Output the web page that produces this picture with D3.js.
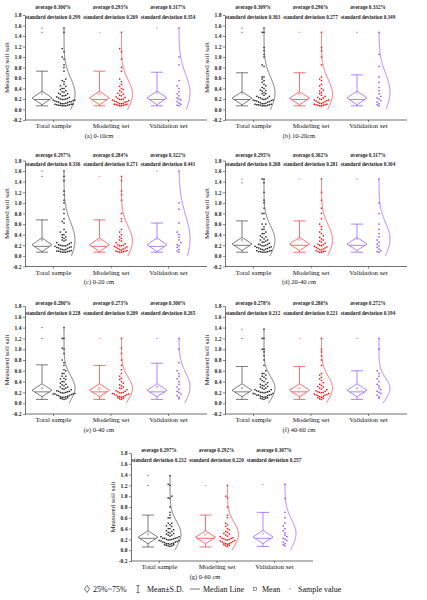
<!DOCTYPE html>
<html><head><meta charset="utf-8">
<script src="https://cdn.jsdelivr.net/npm/d3@7"></script>
<style>body{margin:0;background:#fff}svg{display:block}</style>
</head><body><svg id="c" width="427" height="600"></svg>
<script>
const groups = ["Total sample","Modeling set","Validation set"];
const yTicks = [-0.2,0.0,0.2,0.4,0.6,0.8,1.0,1.2,1.4,1.6,1.8];
const captions = ["(a)  0-10cm","(b)  10-20cm","(c)  0-20 cm","(d)  20-40 cm","(e)  0-40 cm","(f)  40-60 cm","(g)  0-60 cm"];
const averages = [[0.300,0.293,0.317],[0.309,0.296,0.332],[0.297,0.284,0.322],[0.295,0.302,0.317],[0.280,0.273,0.300],[0.278,0.280,0.272],[0.297,0.292,0.307]];
const stdDevs  = [[0.299,0.269,0.354],[0.303,0.277,0.349],[0.336,0.271,0.441],[0.268,0.281,0.304],[0.228,0.209,0.265],[0.212,0.221,0.194],[0.232,0.220,0.257]];
// box stats per panel: [whiskerLow, q25, median, q75, whiskerHigh] for each group
const boxStats = [
 [[0.07,0.09,0.19,0.35,0.73],[0.07,0.09,0.19,0.35,0.73],[0.07,0.09,0.19,0.35,0.71]],
 [[0.07,0.09,0.19,0.34,0.70],[0.07,0.09,0.19,0.34,0.70],[0.07,0.09,0.19,0.35,0.66]],
 [[0.07,0.08,0.18,0.34,0.68],[0.07,0.08,0.18,0.34,0.68],[0.07,0.08,0.18,0.34,0.62]],
 [[0.07,0.10,0.20,0.35,0.66],[0.07,0.10,0.20,0.35,0.66],[0.07,0.10,0.20,0.35,0.60]],
 [[0.07,0.12,0.21,0.36,0.71],[0.07,0.12,0.21,0.36,0.70],[0.07,0.12,0.21,0.36,0.74]],
 [[0.07,0.12,0.21,0.36,0.68],[0.07,0.12,0.21,0.36,0.68],[0.07,0.12,0.21,0.36,0.60]],
 [[0.06,0.12,0.22,0.36,0.65],[0.06,0.12,0.22,0.36,0.65],[0.07,0.12,0.22,0.37,0.70]]
];
const outliers = [
 [[1.47,1.55],[1.47],[1.55]],
 [[1.47,1.55],[1.47],[1.47]],
 [[1.50,1.60],[1.50],[1.60]],
 [[1.38,1.45],[1.45],[1.45]],
 [[1.20,1.40],[1.20],[1.20]],
 [[1.20,1.37],[1.20],[1.20]],
 [[1.20,1.38],[1.20],[1.22]]
];
// sample values
const modeling = [
 [1.47,1.16,1.10,0.96,0.80,0.73,0.58,0.53,0.48,0.44,0.40,0.38,0.36,0.33,0.31,0.29,0.27,0.26,0.24,0.23,0.21,0.20,0.19,0.18,0.17,0.16,0.15,0.14,0.13,0.12,0.11,0.10,0.10,0.09,0.09,0.08,0.08,0.07,0.07,0.19,0.15,0.11],
 [1.47,1.18,1.12,1.00,0.85,0.62,0.58,0.55,0.48,0.45,0.40,0.37,0.35,0.32,0.30,0.27,0.25,0.23,0.22,0.20,0.19,0.18,0.17,0.16,0.15,0.14,0.13,0.12,0.11,0.10,0.09,0.09,0.08,0.08,0.07,0.07,0.18,0.10],
 [1.50,1.42,1.22,1.15,1.05,0.80,0.70,0.65,0.50,0.45,0.40,0.36,0.33,0.30,0.28,0.25,0.23,0.21,0.20,0.19,0.18,0.17,0.16,0.15,0.14,0.13,0.12,0.11,0.10,0.09,0.09,0.08,0.08,0.07,0.07,0.19],
 [1.45,1.20,1.05,0.90,0.80,0.70,0.60,0.55,0.50,0.45,0.42,0.38,0.35,0.32,0.30,0.28,0.26,0.24,0.22,0.21,0.20,0.19,0.18,0.17,0.16,0.15,0.14,0.13,0.12,0.11,0.10,0.09,0.08,0.08,0.07,0.07],
 [1.20,1.02,0.92,0.80,0.70,0.62,0.55,0.50,0.46,0.44,0.40,0.37,0.34,0.32,0.30,0.28,0.27,0.25,0.23,0.22,0.21,0.20,0.19,0.18,0.17,0.16,0.15,0.14,0.13,0.12,0.11,0.10,0.09,0.08,0.07,0.19,0.17,0.12],
 [1.20,1.00,0.95,0.88,0.80,0.70,0.55,0.52,0.48,0.45,0.42,0.38,0.35,0.33,0.31,0.30,0.28,0.26,0.25,0.23,0.22,0.21,0.20,0.19,0.18,0.17,0.16,0.15,0.14,0.13,0.12,0.11,0.10,0.09,0.08,0.07,0.20,0.15],
 [1.20,1.00,0.97,0.80,0.65,0.60,0.50,0.47,0.44,0.40,0.38,0.35,0.33,0.31,0.30,0.28,0.26,0.25,0.23,0.22,0.21,0.20,0.19,0.18,0.17,0.16,0.15,0.14,0.13,0.12,0.11,0.10,0.09,0.08,0.07,0.22,0.19,0.12]
];
const validation = [
 [1.55,1.00,0.85,0.55,0.45,0.40,0.34,0.30,0.26,0.22,0.20,0.18,0.15,0.12,0.10,0.08,0.07],
 [1.47,1.05,0.82,0.62,0.52,0.42,0.36,0.30,0.25,0.22,0.20,0.17,0.14,0.11,0.09,0.07],
 [1.60,1.00,0.88,0.62,0.45,0.40,0.35,0.30,0.25,0.21,0.19,0.16,0.12,0.09,0.07],
 [1.45,1.00,0.80,0.60,0.50,0.42,0.36,0.30,0.26,0.22,0.19,0.16,0.13,0.10,0.08,0.07],
 [1.20,1.00,0.75,0.60,0.55,0.50,0.45,0.40,0.35,0.30,0.26,0.22,0.20,0.17,0.14,0.11,0.08],
 [1.20,1.00,0.60,0.55,0.50,0.45,0.40,0.35,0.32,0.28,0.25,0.22,0.20,0.18,0.15,0.12,0.09],
 [1.22,0.96,0.70,0.60,0.50,0.45,0.40,0.36,0.32,0.28,0.25,0.22,0.20,0.18,0.15,0.12,0.10,0.08]
];
// values in the total sample not shown in either subset
const totalExtra = [[],[1.55],[],[1.38],[1.40],[1.37],[1.38]];
const legendItems = ["25%~75%","Mean±S.D.","Median Line","Mean","Sample value"];

const colors = ["#1a1a1a","#ff0000","#7f3fff"];
const lineColors = ["#444444","#ff3030","#8a50ff"];
const lightColors = ["#9a9a9a","#ff9a9a","#c0a0ff"];
const FONT = "'Liberation Serif','Times New Roman',serif";

// layout
const panels = [
 {x:25,top:15,bot:120,avgY:7.5,sdY:16.8},
 {x:225,top:15,bot:120,avgY:7.5,sdY:16.8},
 {x:25,top:160.5,bot:266.5,avgY:155,sdY:164.5},
 {x:225,top:160.5,bot:266.5,avgY:155,sdY:164.5},
 {x:25,top:306,bot:414,avgY:303.3,sdY:313.3},
 {x:225,top:306,bot:414,avgY:303.3,sdY:313.3},
 {x:131,top:453,bot:561,avgY:450,sdY:460}
];
const svg = d3.select("#c");

function swarm(vals){
  const bins = d3.groups(vals, v=>Math.floor((v-0.04)/0.07));
  const out=[];
  bins.forEach(([k,arr])=>{
    arr.slice().sort((a,b)=>a-b).forEach((v,i)=>{
      const off = i===0?0:(i%2?-1:1)*Math.ceil(i/2);
      out.push({v,off});
    });
  });
  return out;
}

panels.forEach((p,pi)=>{
  const g = svg.append("g");
  const y = d3.scaleLinear().domain([-0.2,1.8]).range([p.bot,p.top]);
  const x = d3.scalePoint().domain(groups).range([p.x+28,p.x+143]);
  // y axis
  const ya = g.append("g").attr("transform",`translate(${p.x},0)`)
    .call(d3.axisLeft(y).tickValues(yTicks).tickFormat(d=>d.toFixed(1)).tickSize(2).tickSizeOuter(0).tickPadding(1.5));
  ya.select(".domain").attr("stroke","#333").attr("stroke-width",0.7);
  ya.selectAll(".tick line").attr("stroke","#333").attr("stroke-width",0.6);
  ya.selectAll("text").attr("font-family",FONT).attr("font-size",5.6).attr("font-weight","bold").attr("fill","#222");
  // x axis
  const xa = g.append("g").attr("transform",`translate(0,${p.bot})`)
    .call(d3.axisBottom(x).tickSize(2).tickSizeOuter(0).tickPadding(1.5));
  xa.select(".domain").remove();
  xa.selectAll(".tick line").attr("stroke","#333").attr("stroke-width",0.6);
  xa.selectAll("text").attr("font-family",FONT).attr("font-size",7).attr("fill","#111");
  g.append("line").attr("x1",p.x).attr("x2",p.x+182).attr("y1",p.bot).attr("y2",p.bot).attr("stroke","#333").attr("stroke-width",0.7);
  // y label
  g.append("text").attr("transform",`translate(${p.x-16},${(p.top+p.bot)/2}) rotate(-90)`)
    .attr("text-anchor","middle").attr("font-family",FONT).attr("font-size",7).attr("fill","#111").text("Measured soil salt");
  // caption
  g.append("text").attr("x",p.x+74).attr("y",p.bot+17.5).attr("text-anchor","middle")
    .attr("font-family",FONT).attr("font-size",6.5).attr("fill","#111").text(captions[pi]);

  groups.forEach((gr,gi)=>{
    const cx = x(gr)-11, sx = x(gr)+11;
    const [lo,q1,md,q3,hi] = boxStats[pi][gi];
    const lc = lineColors[gi], c = colors[gi];
    // annotations
    g.append("text").attr("x",x(gr)).attr("y",p.avgY).attr("dy","0.35em").attr("text-anchor","middle")
      .attr("font-family",FONT).attr("font-size",5.2).attr("font-weight","bold").attr("fill","#222")
      .text(`average ${averages[pi][gi].toFixed(3)}%`);
    g.append("text").attr("x",x(gr)).attr("y",p.sdY).attr("dy","0.35em").attr("text-anchor","middle")
      .attr("font-family",FONT).attr("font-size",5.2).attr("font-weight","bold").attr("fill","#222")
      .text(`standard deviation ${stdDevs[pi][gi].toFixed(3)}`);
    // whiskers
    const w = 6, dw = 10;
    g.append("path").attr("fill","none").attr("stroke",lc).attr("stroke-width",0.7)
      .attr("d",`M${cx},${y(q3)}V${y(hi)}M${cx-w},${y(hi)}H${cx+w}M${cx},${y(q1)}V${y(lo)}M${cx-w},${y(lo)}H${cx+w}`);
    // diamond
    const mid = (q1+q3)/2;
    g.append("path").attr("fill","none").attr("stroke",lc).attr("stroke-width",0.7)
      .attr("d",`M${cx},${y(q3)}L${cx+dw},${y(mid)}L${cx},${y(q1)}L${cx-dw},${y(mid)}Z`);
    const half = (y(q1)-y(q3))/2;
    const mw = dw*(1-Math.abs(y(md)-y(mid))/half);
    g.append("line").attr("x1",cx-mw).attr("x2",cx+mw).attr("y1",y(md)).attr("y2",y(md)).attr("stroke",lc).attr("stroke-width",0.7);
    // mean
    g.append("rect").attr("x",cx-0.8).attr("y",y(averages[pi][gi])-0.8).attr("width",1.6).attr("height",1.6)
      .attr("fill","none").attr("stroke",lightColors[gi]).attr("stroke-width",0.5);
    // outliers
    g.selectAll(null).data(outliers[pi][gi]).join("rect")
      .attr("x",cx-1).attr("y",d=>y(d)-0.5).attr("width",2).attr("height",1).attr("fill",lightColors[gi]);
    // samples
    const vals = gi===0 ? modeling[pi].concat(validation[pi], totalExtra[pi]) : (gi===1?modeling[pi]:validation[pi]);
    g.selectAll(null).data(swarm(vals)).join("rect")
      .attr("x",d=>sx+d.off*1.8-0.7).attr("y",d=>y(d.v)-0.7).attr("width",1.4).attr("height",1.4).attr("fill",c);
    // normal curve
    const m = averages[pi][gi], s = stdDevs[pi][gi];
    const vmax = d3.max(vals);
    const pts = d3.range(0, vmax+0.001, 0.01);
    g.append("path").attr("fill","none").attr("stroke",lc).attr("stroke-width",0.7)
      .attr("d", d3.line().x(v=>sx+11*Math.exp(-((v-m)**2)/(2*s*s))).y(v=>y(v))(pts));
  });
});

// legend
const ly = 589;
const lg = svg.append("g").attr("font-family",FONT).attr("font-size",8).attr("fill","#111");
const lx = [93,147,203,262,298];
legendItems.forEach((t,i)=>{
  lg.append("text").attr("x",lx[i]).attr("y",ly).attr("dy","0.35em").text(t);
});
lg.append("path").attr("d",`M87,${ly-3.5}L89.5,${ly}L87,${ly+3.5}L84.5,${ly}Z`).attr("fill","none").attr("stroke","#333").attr("stroke-width",0.7);
lg.append("path").attr("d",`M138,${ly-3.5}V${ly+3.5}M136.5,${ly-3.5}H139.5M136.5,${ly+3.5}H139.5`).attr("fill","none").attr("stroke","#333").attr("stroke-width",0.7);
lg.append("line").attr("x1",190).attr("x2",200).attr("y1",ly).attr("y2",ly).attr("stroke","#555").attr("stroke-width",0.8);
lg.append("rect").attr("x",253.5).attr("y",ly-1.5).attr("width",3).attr("height",3).attr("fill","none").attr("stroke","#555").attr("stroke-width",0.6);
lg.append("rect").attr("x",289.5).attr("y",ly-0.5).attr("width",1).attr("height",1).attr("fill","#333");
</script></body></html>
